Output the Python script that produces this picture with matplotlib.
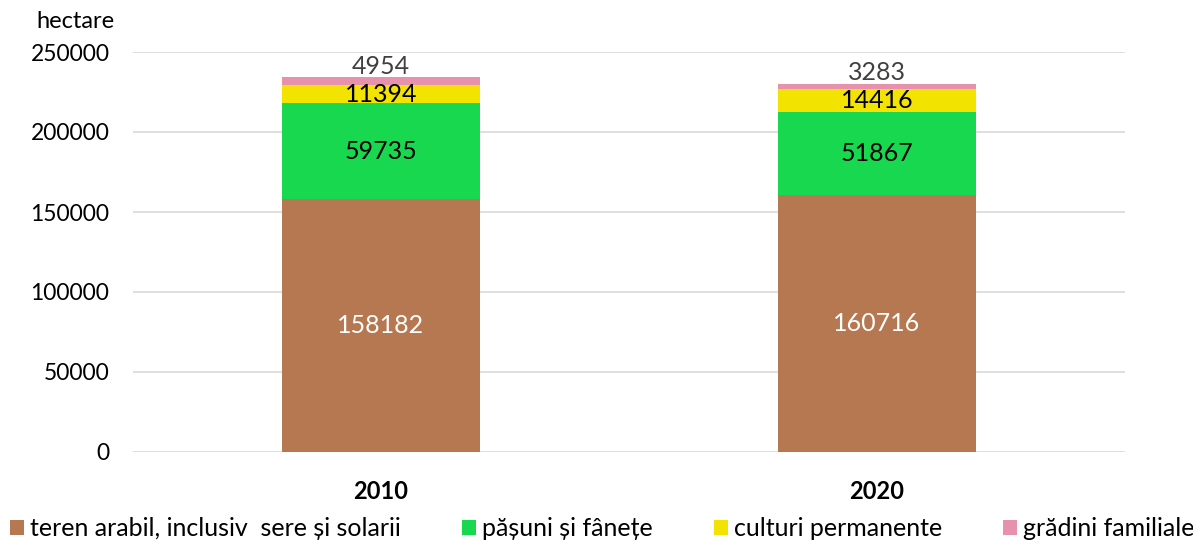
import matplotlib
matplotlib.use("Agg")
import matplotlib.pyplot as plt
import numpy as np

years = ["2010", "2020"]
series_names = ["teren arabil, inclusiv  sere și solarii", "pășuni și fânețe",
                "culturi permanente", "grădini familiale"]
arabil = [158182, 160716]
pasuni = [59735, 51867]
culturi = [11394, 14416]
gradini = [4954, 3283]
yticks = [0, 50000, 100000, 150000, 200000, 250000]

colors = ["#B57850", "#17D84E", "#F2E400", "#E692AC"]
label_colors = ["white", "black", "black", "#404040"]

plt.rcParams['font.family'] = ['Lato', 'DejaVu Sans']

fig = plt.figure(figsize=(11.93, 5.42), dpi=100)
ax = fig.add_axes([133/1193, 1-452/542, (1125-133)/1193, 400/542])

x = np.arange(len(years))
data = [arabil, pasuni, culturi, gradini]
bottom = np.zeros(len(years))
handles = []
for i, (vals, c) in enumerate(zip(data, colors)):
    vals = np.array(vals, dtype=float)
    b = ax.bar(x, vals, 0.4, bottom=bottom, color=c, label=series_names[i], zorder=2)
    handles.append(b)
    for xi, v, bt in zip(x, vals, bottom):
        if i == 3:
            ax.text(xi, bt + v - 300, f"{int(v)}", ha="center", va="bottom",
                    color=label_colors[i], fontsize=18)
        else:
            ax.text(xi, bt + v / 2, f"{int(v)}", ha="center", va="center",
                    color=label_colors[i], fontsize=18)
    bottom = bottom + vals

ax.set_xlim(-0.5, 1.5)
ax.set_ylim(0, 250000)
ax.set_yticks(yticks)
ax.set_yticklabels([str(t) for t in yticks], fontsize=16.5)
ax.set_xticks(x)
ax.set_xticklabels(years, fontsize=17, fontweight="bold")
ax.yaxis.grid(True, color="#D9D9D9", linewidth=1.2, zorder=0)
for s in ax.spines.values():
    s.set_visible(False)
ax.tick_params(axis="both", length=0)
ax.tick_params(axis="y", pad=17)
ax.tick_params(axis="x", pad=20)

fig.text(75/1193, 1-22/542, "hectare", ha="center", va="center", fontsize=17)

leg = fig.legend(handles=handles, labels=series_names, loc="lower left",
                 bbox_to_anchor=(0.002, -0.01), ncol=4, frameon=False, fontsize=18,
                 handlelength=0.55, handleheight=0.55, handletextpad=0.25,
                 columnspacing=2.45, borderaxespad=0.0, borderpad=0.3)

fig.savefig("out.png", dpi=100)
